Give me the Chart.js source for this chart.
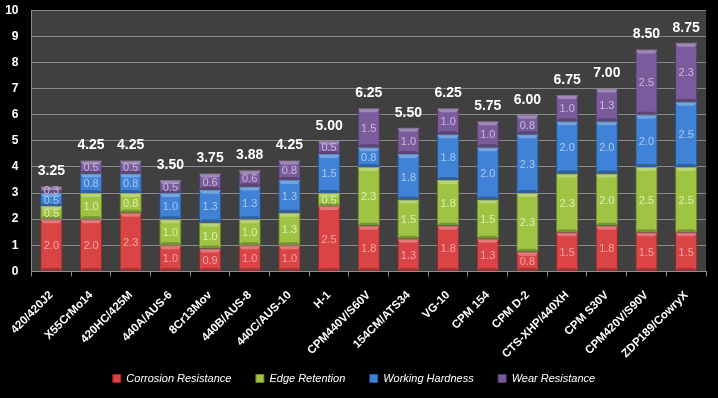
<!DOCTYPE html>
<html>
<head>
<meta charset="utf-8">
<script src="https://cdn.jsdelivr.net/npm/chart.js@4"></script>
<style>
  html, body { margin: 0; padding: 0; background: #000; }
  #wrap { width: 718px; height: 398px; }
</style>
</head>
<body>
<div id="wrap"><canvas id="chart" width="718" height="398"></canvas></div>
<script>
// Stål-kategorier
const steels = ['420/420J2', 'X55CrMo14', '420HC/425M', '440A/AUS-6', '8Cr13Mov', '440B/AUS-8',
  '440C/AUS-10', 'H-1', 'CPM440V/S60V', '154CM/ATS34', 'VG-10', 'CPM 154', 'CPM D-2',
  'CTS-XHP/440XH', 'CPM S30V', 'CPM420V/S90V', 'ZDP189/CowryX'];

// Verdier per egenskap
const corrosion = [2.0, 2.0, 2.25, 1.0, 0.875, 1.0, 1.0, 2.5, 1.75, 1.25, 1.75, 1.25, 0.75, 1.5, 1.75, 1.5, 1.5];
const edge      = [0.5, 1.0, 0.75, 1.0, 1.0, 1.0, 1.25, 0.5, 2.25, 1.5, 1.75, 1.5, 2.25, 2.25, 2.0, 2.5, 2.5];
const hardness  = [0.5, 0.75, 0.75, 1.0, 1.25, 1.25, 1.25, 1.5, 0.75, 1.75, 1.75, 2.0, 2.25, 2.0, 2.0, 2.0, 2.5];
const wear      = [0.25, 0.5, 0.5, 0.5, 0.625, 0.625, 0.75, 0.5, 1.5, 1.0, 1.0, 1.0, 0.75, 1.0, 1.25, 2.5, 2.25];

const yTicks = [0, 1, 2, 3, 4, 5, 6, 7, 8, 9, 10];

// Farger: [kant, midt, etikett]
const palette = {
  red:    ['#9c2424', '#d94444', '#f2a3a3'],
  green:  ['#6a8626', '#9fc443', '#dcedb5'],
  blue:   ['#22579c', '#3f82d6', '#a9c8ee'],
  purple: ['#4f3a68', '#7a5c9c', '#c7b7dc']
};

function barFill(key) {
  return (ctx) => {
    const el = ctx.element;
    const c = ctx.chart.ctx;
    if (!el || !el.width) return palette[key][1];
    const l = el.x - el.width / 2, r = el.x + el.width / 2;
    const g = c.createLinearGradient(l, 0, r, 0);
    g.addColorStop(0, palette[key][0]);
    g.addColorStop(0.15, palette[key][1]);
    g.addColorStop(0.85, palette[key][1]);
    g.addColorStop(1, palette[key][0]);
    return g;
  };
}

const areaBg = {
  id: 'areaBg',
  beforeDraw(chart) {
    const a = chart.chartArea, c = chart.ctx;
    c.save();
    c.fillStyle = '#404040';
    c.fillRect(a.left, a.top, a.right - a.left, a.bottom - a.top);
    c.restore();
  }
};

// Skrå kant øverst og nederst på hver søyle + tallverdier
const bevelAndLabels = {
  id: 'bevelAndLabels',
  afterDatasetsDraw(chart) {
    const c = chart.ctx;
    c.save();
    chart.data.datasets.forEach((ds, di) => {
      const meta = chart.getDatasetMeta(di);
      meta.data.forEach((el, i) => {
        const l = el.x - el.width / 2, r = el.x + el.width / 2;
        const top = Math.min(el.y, el.base), bot = Math.max(el.y, el.base);
        c.fillStyle = 'rgba(255,255,255,0.28)';
        c.beginPath();
        c.moveTo(l, top); c.lineTo(r, top); c.lineTo(r - 3, top + 4); c.lineTo(l + 3, top + 4);
        c.closePath(); c.fill();
        c.fillStyle = 'rgba(0,0,0,0.25)';
        c.beginPath();
        c.moveTo(l, bot); c.lineTo(r, bot); c.lineTo(r - 3, bot - 3); c.lineTo(l + 3, bot - 3);
        c.closePath(); c.fill();

        c.fillStyle = ds.labelColor;
        c.font = '11px "Liberation Sans", sans-serif';
        c.textAlign = 'center';
        c.textBaseline = 'middle';
        c.fillText(ds.data[i].toFixed(1), el.x, (top + bot) / 2 + 1);
      });
    });
    // Summer over søylene
    const last = chart.getDatasetMeta(chart.data.datasets.length - 1);
    last.data.forEach((el, i) => {
      const total = chart.data.datasets.reduce((s, ds) => s + ds.data[i], 0);
      c.fillStyle = '#ffffff';
      c.font = 'bold 14px "Liberation Sans", sans-serif';
      c.textAlign = 'center';
      c.textBaseline = 'middle';
      c.fillText(total.toFixed(2), el.x, el.y - 15);
    });
    c.restore();
  }
};

function makeSet(label, data, key) {
  return {
    label: label,
    data: data,
    backgroundColor: barFill(key),
    borderColor: palette[key][0],
    borderWidth: 1,
    categoryPercentage: 1.0,
    barPercentage: 0.56,
    labelColor: palette[key][2],
    legendColor: palette[key][1]
  };
}

new Chart(document.getElementById('chart').getContext('2d'), {
  type: 'bar',
  data: {
    labels: steels,
    datasets: [
      makeSet('Corrosion Resistance', corrosion, 'red'),
      makeSet('Edge Retention', edge, 'green'),
      makeSet('Working Hardness', hardness, 'blue'),
      makeSet('Wear Resistance', wear, 'purple')
    ]
  },
  options: {
    responsive: false,
    animation: false,
    layout: { padding: { top: 10, right: 12, left: 2, bottom: 4 } },
    plugins: {
      tooltip: { enabled: false },
      legend: {
        position: 'bottom',
        labels: {
          color: '#ffffff',
          boxWidth: 8,
          boxHeight: 8,
          padding: 0,
          font: { family: '"Liberation Sans", sans-serif', size: 11, style: 'italic' },
          generateLabels(chart) {
            const n = chart.data.datasets.length;
            return chart.data.datasets.map((ds, i) => ({
              text: i < n - 1 ? ds.label + '        ' : ds.label,
              fillStyle: ds.legendColor,
              strokeStyle: ds.borderColor,
              lineWidth: 1,
              fontColor: '#ffffff',
              datasetIndex: i
            }));
          }
        }
      }
    },
    scales: {
      x: {
        stacked: true,
        grid: { drawOnChartArea: false, color: '#8c8c8c', tickLength: 5 },
        border: { color: '#8c8c8c' },
        ticks: {
          color: '#ffffff',
          maxRotation: 45,
          minRotation: 45,
          autoSkip: false,
          padding: 12,
          font: { family: '"Liberation Sans", sans-serif', size: 11.5, weight: 'bold' }
        }
      },
      y: {
        stacked: true,
        min: 0,
        max: 10,
        afterBuildTicks(axis) {
          const t = [];
          yTicks.forEach((v) => { t.push({ value: v }); if (v < 10) t.push({ value: v + 0.5 }); });
          axis.ticks = t;
        },
        grid: {
          color: (ctx) => (ctx.tick && Number.isInteger(ctx.tick.value)) ? '#8a8a8a' : '#5e5e5e',
          tickColor: 'rgba(0,0,0,0)',
          tickLength: 10
        },
        border: { color: '#8c8c8c' },
        ticks: {
          color: '#ffffff',
          padding: 3,
          font: { family: '"Liberation Sans", sans-serif', size: 12, weight: 'bold' },
          callback: (v) => Number.isInteger(v) ? String(v) : ''
        }
      }
    }
  },
  plugins: [areaBg, bevelAndLabels]
});
</script>
</body>
</html>
